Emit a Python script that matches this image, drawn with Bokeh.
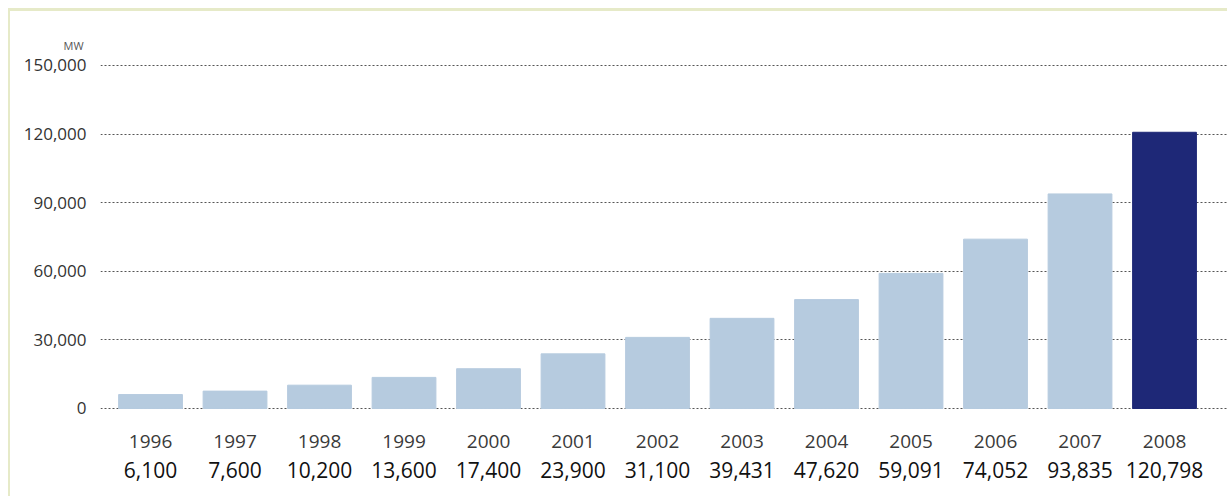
from bokeh.plotting import figure
from bokeh.models import Range1d, FixedTicker, ColumnDataSource
from bokeh.core.properties import value
from bokeh.embed import file_html
from bokeh.resources import INLINE

years = ["1996", "1997", "1998", "1999", "2000", "2001", "2002", "2003", "2004", "2005", "2006", "2007", "2008"]
capacity = [6100, 7600, 10200, 13600, 17400, 23900, 31100, 39431, 47620, 59091, 74052, 93835, 120798]
value_labels = ["6,100", "7,600", "10,200", "13,600", "17,400", "23,900", "31,100", "39,431", "47,620", "59,091", "74,052", "93,835", "120,798"]
y_ticks = [0, 30000, 60000, 90000, 120000, 150000]
y_tick_labels = ["0", "30,000", "60,000", "90,000", "120,000", "150,000"]
unit_label = "MW"

LIGHT = "#b6cbdf"
DARK = "#1e2877"
colors = [LIGHT] * (len(years) - 1) + [DARK]
xs = list(range(len(years)))

src = ColumnDataSource(dict(x=xs, top=capacity, color=colors, year=years, val=value_labels,
                            y_year=[-14400] * len(years), y_val=[-27100] * len(years)))

p = figure(width=1219, height=488, output_backend="svg", toolbar_location=None,
           title=unit_label,
           x_range=Range1d(-0.592, 12.769), y_range=Range1d(-39796, 155685),
           min_border_left=90, min_border_right=0, min_border_top=41, min_border_bottom=0,
           x_axis_location=None)
p.title.align = "left"
p.title.offset = -37
p.title.standoff = 0
p.title.text_font = "Open Sans"
p.title.text_font_size = "11px"
p.title.text_font_style = "normal"
p.title.text_color = "#555555"

p.outline_line_color = None
p.background_fill_color = "white"
p.border_fill_color = "white"
p.xgrid.visible = False

p.yaxis.ticker = FixedTicker(ticks=y_ticks)
p.yaxis.major_label_overrides = {t: l for t, l in zip(y_ticks, y_tick_labels)}
p.yaxis.axis_line_color = None
p.yaxis.major_tick_line_color = None
p.yaxis.minor_tick_line_color = None
p.yaxis.major_label_standoff = 8
p.yaxis.major_label_text_font = "Open Sans"
p.yaxis.major_label_text_font_size = "17px"
p.yaxis.major_label_text_color = "#333333"

p.ygrid.ticker = FixedTicker(ticks=y_ticks)
p.ygrid.grid_line_color = "#555555"
p.ygrid.grid_line_dash = "2 2"
p.ygrid.grid_line_width = 1
p.ygrid.bounds = (-0.56, 12.6)

p.vbar(x="x", top="top", bottom=0, width=0.755, color="color", source=src)

p.text(x="x", y="y_year", text="year", source=src, text_align="center", text_baseline="middle",
       text_font=value("Open Sans"), text_font_size="19px", text_color="#3a3a3a")
p.text(x="x", y="y_val", text="val", source=src, text_align="center", text_baseline="middle",
       text_font=value("Open Sans"), text_font_size="21px", text_color="#111111")

p.styles = {"margin-left": "8px", "margin-top": "8px",
            "border-top": "3px solid #e6eac8", "border-left": "2px solid #e6eac8"}

open("out.html", "w").write(file_html(p, INLINE))
